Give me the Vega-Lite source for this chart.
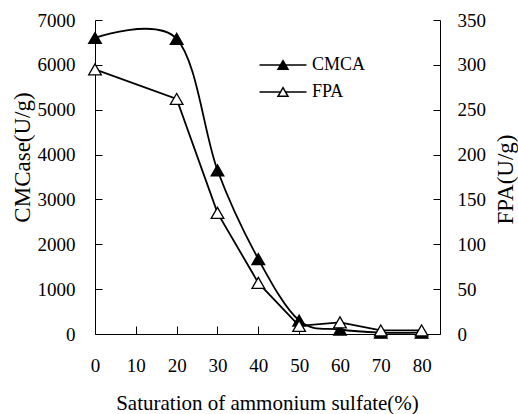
{
  "$schema": "https://vega.github.io/schema/vega-lite/v6.json",
  "width": 345,
  "height": 314,
  "autosize": {"type": "none"},
  "padding": {"left": 95, "top": 20, "right": 78, "bottom": 80},
  "background": "white",
  "config": {
    "view": {"stroke": null},
    "font": "Liberation Serif",
    "axis": {
      "domainColor": "black",
      "domainWidth": 1,
      "tickColor": "black",
      "tickWidth": 1,
      "labelColor": "black",
      "titleColor": "black",
      "titleFontWeight": "normal",
      "grid": false,
      "labelFont": "Liberation Serif",
      "titleFont": "Liberation Serif"
    }
  },
  "data": {
    "values": [
      {"series": "CMCA", "saturation": 0, "value": 6600},
      {"series": "CMCA", "saturation": 20, "value": 6580},
      {"series": "CMCA", "saturation": 30, "value": 3650},
      {"series": "CMCA", "saturation": 40, "value": 1670},
      {"series": "CMCA", "saturation": 50, "value": 300},
      {"series": "CMCA", "saturation": 60, "value": 100},
      {"series": "CMCA", "saturation": 70, "value": 30},
      {"series": "CMCA", "saturation": 80, "value": 30},
      {"series": "FPA", "saturation": 0, "value": 295},
      {"series": "FPA", "saturation": 20, "value": 262},
      {"series": "FPA", "saturation": 30, "value": 135},
      {"series": "FPA", "saturation": 40, "value": 57},
      {"series": "FPA", "saturation": 50, "value": 9},
      {"series": "FPA", "saturation": 60, "value": 13},
      {"series": "FPA", "saturation": 70, "value": 4},
      {"series": "FPA", "saturation": 80, "value": 4}
    ]
  },
  "encoding": {
    "x": {
      "field": "saturation",
      "type": "quantitative",
      "scale": {"domain": [0, 84.5], "nice": false},
      "axis": {
        "values": [0, 10, 20, 30, 40, 50, 60, 70, 80],
        "format": "d",
        "title": "Saturation of ammonium sulfate(%)",
        "titleFontSize": 21,
        "labelFont": "Liberation Serif",
        "labelFontSize": 19,
        "tickSize": -8,
        "labelPadding": 30,
        "labelFlush": false,
        "titleX": 172,
        "titleY": 69,
        "titleAlign": "center",
        "titleBaseline": "middle"
      }
    }
  },
  "layer": [
    {
      "transform": [{"filter": "datum.series === 'CMCA'"}],
      "encoding": {
        "y": {
          "field": "value",
          "type": "quantitative",
          "scale": {"domain": [0, 7000], "nice": false},
          "axis": {
            "orient": "left",
            "values": [0, 1000, 2000, 3000, 4000, 5000, 6000, 7000],
            "format": "d",
            "title": "CMCase(U/g)",
            "titleFontSize": 23,
            "labelFont": "Liberation Serif",
            "labelFontSize": 19,
            "tickSize": -7,
            "labelPadding": 27,
            "labelFlush": false,
            "titleAngle": 270,
            "titleX": -73,
            "titleY": 137,
            "titleAlign": "center",
            "titleBaseline": "middle"
          }
        }
      },
      "layer": [
        {"mark": {"type": "line", "interpolate": "cardinal", "color": "black", "strokeWidth": 1.8}},
        {
          "mark": {"type": "point", "shape": "triangle-up", "size": 160, "filled": true, "stroke": "black", "strokeWidth": 1.3, "opacity": 1},
          "encoding": {
            "fill": {
              "field": "series",
              "type": "nominal",
              "scale": {"domain": ["CMCA", "FPA"], "range": ["black", "white"]},
              "legend": {
                "title": null,
                "orient": "none",
                "legendX": 177,
                "legendY": 34,
                "padding": 0,
                "symbolType": "M-2.35,0L-0.25,0M0.25,0L2.35,0M0,-0.433L0.5,0.433L-0.5,0.433Z",
                "symbolSize": 400,
                "symbolStrokeColor": "black",
                "symbolStrokeWidth": 1.5,
                "symbolOpacity": 1,
                "labelFont": "Liberation Serif",
                "labelFontSize": 18,
                "labelColor": "black",
                "labelOffset": 18,
                "rowPadding": 7
              }
            }
          }
        }
      ]
    },
    {
      "transform": [{"filter": "datum.series === 'FPA'"}],
      "encoding": {
        "y": {
          "field": "value",
          "type": "quantitative",
          "scale": {"domain": [0, 350], "nice": false},
          "axis": {
            "orient": "right",
            "values": [0, 50, 100, 150, 200, 250, 300, 350],
            "format": "d",
            "title": "FPA(U/g)",
            "titleFontSize": 23,
            "labelFont": "Liberation Serif",
            "labelFontSize": 19,
            "tickSize": -7,
            "labelPadding": 24,
            "labelFlush": false,
            "titleAngle": 270,
            "titleX": 65,
            "titleY": 159,
            "titleAlign": "center",
            "titleBaseline": "middle"
          }
        }
      },
      "layer": [
        {"mark": {"type": "line", "interpolate": "linear", "color": "black", "strokeWidth": 1.8}},
        {
          "mark": {"type": "point", "shape": "triangle-up", "size": 160, "filled": true, "stroke": "black", "strokeWidth": 1.3, "opacity": 1},
          "encoding": {
            "fill": {"field": "series", "type": "nominal"}
          }
        }
      ]
    }
  ],
  "resolve": {"scale": {"y": "independent"}}
}
